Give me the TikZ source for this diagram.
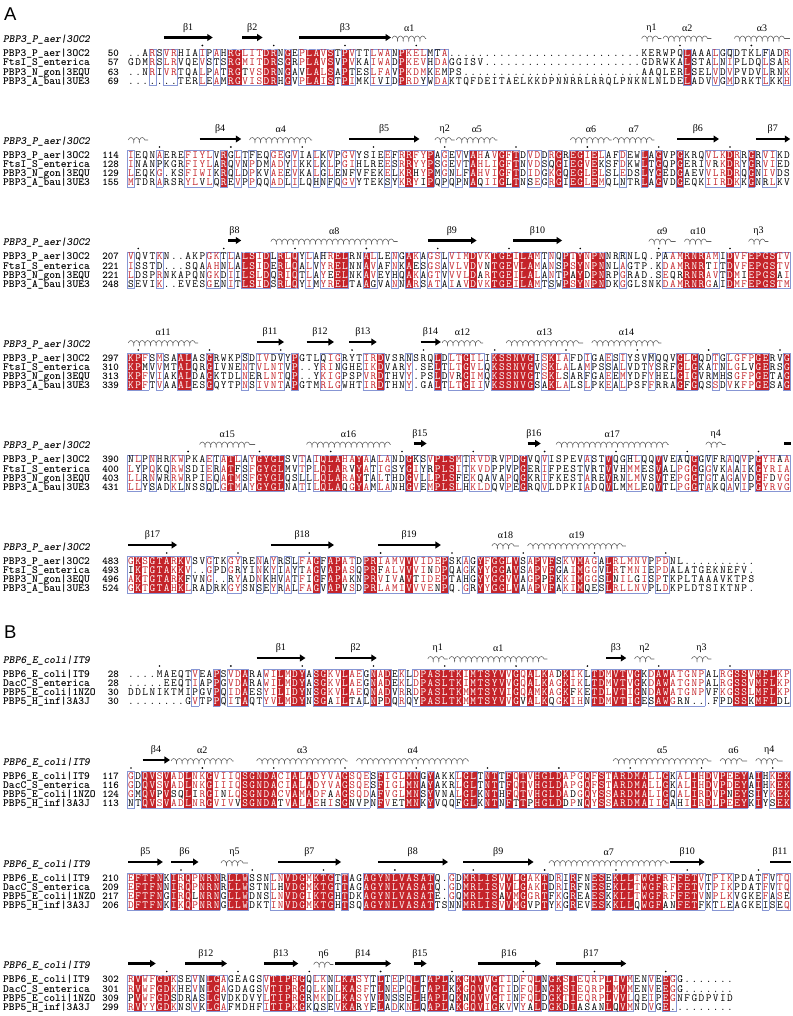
\documentclass[tikz,border=0pt]{standalone}
\usepackage{fontspec}
\setmainfont{Liberation Serif}
\newfontfamily\panelfont{Liberation Sans}
\usetikzlibrary{decorations.pathmorphing,arrows.meta}
\definecolor{alnred}{RGB}{196,36,42}
\definecolor{alnframe}{RGB}{135,150,212}
\definecolor{coilgray}{RGB}{95,95,95}
\def\alnS{127.5}
\def\alnW{7.13}
\def\alnP{9.2}
\def\alnL{93}
\def\alnB{3.3}
\def\alndotoff{2}
\tikzset{
  seqch/.style={inner sep=0pt, anchor=base, font=\fontsize{11}{11}\selectfont\ttfamily},
  namest/.style={inner sep=0pt, anchor=base west, font=\fontsize{11}{11}\selectfont\ttfamily\bfseries},
  numst/.style={inner sep=0pt, anchor=base east, font=\fontsize{10.5}{10.5}\selectfont\ttfamily\bfseries},
  headst/.style={inner sep=0pt, anchor=base west, font=\fontsize{11}{11}\selectfont\ttfamily\bfseries\itshape},
  sslab/.style={inner sep=0pt, anchor=center, font=\fontsize{10}{10}\selectfont},
  ssarr/.style={line width=2.2pt, -{Triangle[length=5.5pt,width=6.8pt]}},
  ssbarst/.style={line width=2.2pt},
  sscoil/.style={draw=coilgray, line width=0.55pt, decorate, decoration={coil, amplitude=2.5pt, segment length=5.6pt, aspect=0.5}},
  panel/.style={inner sep=0pt, anchor=west, font=\fontsize{18.5}{20}\selectfont\panelfont},
  frameline/.style={draw=alnframe, line width=0.55pt, line cap=rect},
}
\newcommand\alnbox[4]{\fill[alnred] (#1,#2) rectangle (#3,#4);}
\newcommand\alnseg[4]{\draw[frameline] (#1,#2) -- (#3,#4);}
\newcommand\alnch[4]{\node[seqch,text=#3] at (#1,#2) {#4};}
\newcommand\alndot[2]{\fill[black] (#1,#2) circle[radius=0.9];}

\ExplSyntaxOn
\intarray_new:Nn \g_aln_cls_intarray { 130 }
\intarray_new:Nn \g_aln_red_intarray { 520 }
\tl_new:N \g_aln_sa_tl
\tl_new:N \g_aln_sb_tl
\tl_new:N \g_aln_sc_tl
\tl_new:N \g_aln_sd_tl
\tl_new:N \l_aln_tmp_tl
\tl_new:N \l_aln_left_tl
\tl_new:N \l_aln_right_tl
\tl_new:N \l_aln_a_tl
\tl_new:N \l_aln_b_tl
\tl_new:N \l_aln_c_tl
\tl_new:N \l_aln_d_tl
\tl_new:N \l_aln_ch_tl
\tl_new:N \l_aln_col_tl
\tl_new:N \l_aln_x_tl
\tl_new:N \l_aln_xa_tl
\tl_new:N \l_aln_xb_tl
\tl_new:N \l_aln_yt_tl
\tl_new:N \l_aln_yb_tl
\int_new:N \l_aln_len_int
\int_new:N \l_aln_n_int
\int_new:N \l_aln_num_int
\int_new:N \l_aln_ga_int
\int_new:N \l_aln_gb_int
\int_new:N \l_aln_gc_int
\int_new:N \l_aln_gd_int
\int_new:N \l_aln_cls_int
\int_new:N \l_aln_bestg_int

\clist_map_inline:nn { I , L , V , M } { \cs_new:cpn { aln_grp_ #1 } { 1 } }
\clist_map_inline:nn { F , Y , W } { \cs_new:cpn { aln_grp_ #1 } { 2 } }
\clist_map_inline:nn { K , R , H } { \cs_new:cpn { aln_grp_ #1 } { 3 } }
\clist_map_inline:nn { D , E } { \cs_new:cpn { aln_grp_ #1 } { 4 } }
\clist_map_inline:nn { S , T } { \cs_new:cpn { aln_grp_ #1 } { 5 } }
\clist_map_inline:nn { N , Q } { \cs_new:cpn { aln_grp_ #1 } { 6 } }
\clist_map_inline:nn { A , G } { \cs_new:cpn { aln_grp_ #1 } { 7 } }
\clist_map_inline:nn { P } { \cs_new:cpn { aln_grp_ #1 } { 8 } }
\clist_map_inline:nn { C } { \cs_new:cpn { aln_grp_ #1 } { 9 } }

\cs_new:Npn \aln_grp:N #1 { \cs_if_exist_use:cF { aln_grp_ #1 } { 0 } }
\cs_new:Npn \aln_eq:nn #1 #2 { \int_compare:nNnTF {#1} = {#2} {1} {0} }
\cs_new:Npn \aln_cls:n #1 { \intarray_item:Nn \g_aln_cls_intarray { #1 + 1 } }

\cs_new_protected:Npn \aln_split:w #1 * #2 \q_stop
 { \tl_set:Nn \l_aln_left_tl {#1} \tl_set:Nn \l_aln_right_tl {#2} }

\cs_new_protected:Npn \aln_setrow:Nn #1 #2
 {
  \tl_set:Nn \l_aln_tmp_tl {#2}
  \tl_remove_all:Nn \l_aln_tmp_tl { ~ }
  \tl_if_in:NnTF \l_aln_tmp_tl { * }
   {
    \exp_after:wN \aln_split:w \l_aln_tmp_tl \q_stop
    \int_set:Nn \l_aln_n_int
     { \alnL - \tl_count:N \l_aln_left_tl - \tl_count:N \l_aln_right_tl }
    \tl_gset:Nx #1
     { \l_aln_left_tl \prg_replicate:nn { \l_aln_n_int } { . } \l_aln_right_tl }
   }
   { \tl_gset_eq:NN #1 \l_aln_tmp_tl }
 }

\cs_new_protected:Npn \aln_try:N #1
 {
  \int_compare:nNnT { \l_aln_cls_int } = { 0 }
   {
    \int_compare:nNnT { #1 } > { 0 }
     {
      \int_compare:nNnT
       {
        \aln_eq:nn {#1} { \l_aln_ga_int } + \aln_eq:nn {#1} { \l_aln_gb_int }
        + \aln_eq:nn {#1} { \l_aln_gc_int } + \aln_eq:nn {#1} { \l_aln_gd_int }
       } > { 2 }
       {
        \int_set:Nn \l_aln_cls_int { 1 }
        \int_set_eq:NN \l_aln_bestg_int #1
       }
     }
   }
 }
\cs_new:Npn \aln_isred:n #1
 {
  \int_compare:nNnTF { \l_aln_cls_int } = { 1 }
   { \aln_eq:nn {#1} { \l_aln_bestg_int } }
   { 0 }
 }

\cs_new_protected:Npn \aln_analyse:
 {
  \int_set:Nn \l_aln_len_int { \str_count:N \g_aln_sa_tl }
  \int_step_inline:nn { \l_aln_len_int + 2 }
   { \intarray_gset:Nnn \g_aln_cls_intarray {##1} { 0 } }
  \int_step_inline:nn { \l_aln_len_int }
   {
    \tl_set:Nx \l_aln_a_tl { \str_item:Nn \g_aln_sa_tl {##1} }
    \tl_set:Nx \l_aln_b_tl { \str_item:Nn \g_aln_sb_tl {##1} }
    \tl_set:Nx \l_aln_c_tl { \str_item:Nn \g_aln_sc_tl {##1} }
    \tl_set:Nx \l_aln_d_tl { \str_item:Nn \g_aln_sd_tl {##1} }
    \int_set:Nn \l_aln_ga_int { \aln_grp:N \l_aln_a_tl }
    \int_set:Nn \l_aln_gb_int { \aln_grp:N \l_aln_b_tl }
    \int_set:Nn \l_aln_gc_int { \aln_grp:N \l_aln_c_tl }
    \int_set:Nn \l_aln_gd_int { \aln_grp:N \l_aln_d_tl }
    \int_zero:N \l_aln_cls_int
    \int_zero:N \l_aln_bestg_int
    \tl_if_eq:NNT \l_aln_a_tl \l_aln_b_tl
     {
      \tl_if_eq:NNT \l_aln_a_tl \l_aln_c_tl
       {
        \tl_if_eq:NNT \l_aln_a_tl \l_aln_d_tl
         {
          \int_compare:nNnT { \l_aln_ga_int } > { 0 }
           { \int_set:Nn \l_aln_cls_int { 2 } }
         }
       }
     }
    \aln_try:N \l_aln_ga_int
    \aln_try:N \l_aln_gb_int
    \intarray_gset:Nnn \g_aln_cls_intarray { ##1 + 1 } { \l_aln_cls_int }
    \intarray_gset:Nnn \g_aln_red_intarray { 4 * ##1 - 3 } { \aln_isred:n { \l_aln_ga_int } }
    \intarray_gset:Nnn \g_aln_red_intarray { 4 * ##1 - 2 } { \aln_isred:n { \l_aln_gb_int } }
    \intarray_gset:Nnn \g_aln_red_intarray { 4 * ##1 - 1 } { \aln_isred:n { \l_aln_gc_int } }
    \intarray_gset:Nnn \g_aln_red_intarray { 4 * ##1 } { \aln_isred:n { \l_aln_gd_int } }
   }
 }

\cs_new_protected:Npn \aln_xl:n #1
 {
  \tl_set:Nx \l_aln_xa_tl { \fp_eval:n { \alnS + (#1 - 1) * \alnW } }
  \tl_set:Nx \l_aln_xb_tl { \fp_eval:n { \alnS + (#1) * \alnW } }
 }

\cs_new_protected:Npn \aln_draw:n #1
 {
  \tl_set:Nx \l_aln_yt_tl { \fp_eval:n { #1 - 0.5 * \alnP } }
  \tl_set:Nx \l_aln_yb_tl { \fp_eval:n { #1 + 3.5 * \alnP } }
  \int_step_inline:nn { \l_aln_len_int }
   {
    \int_compare:nNnT { \aln_cls:n {##1} } = { 2 }
     {
      \tl_set:Nx \l_aln_xa_tl { \fp_eval:n { \alnS + (##1 - 1) * \alnW - 0.25 } }
      \tl_set:Nx \l_aln_xb_tl { \fp_eval:n { \alnS + (##1) * \alnW + 0.25 } }
      \use:e { \exp_not:N \alnbox { \l_aln_xa_tl } { \l_aln_yt_tl } { \l_aln_xb_tl } { \l_aln_yb_tl } }
     }
   }
  \int_step_inline:nn { \l_aln_len_int }
   {
    \int_compare:nNnT { \aln_cls:n {##1} } > { 0 }
     {
      \aln_xl:n {##1}
      \use:e { \exp_not:N \alnseg { \l_aln_xa_tl } { \l_aln_yt_tl } { \l_aln_xb_tl } { \l_aln_yt_tl } }
      \use:e { \exp_not:N \alnseg { \l_aln_xa_tl } { \l_aln_yb_tl } { \l_aln_xb_tl } { \l_aln_yb_tl } }
      \int_compare:nNnT { \aln_cls:n { ##1 - 1 } } = { 0 }
       { \use:e { \exp_not:N \alnseg { \l_aln_xa_tl } { \l_aln_yt_tl } { \l_aln_xa_tl } { \l_aln_yb_tl } } }
      \int_compare:nNnT { \aln_cls:n { ##1 + 1 } } = { 0 }
       { \use:e { \exp_not:N \alnseg { \l_aln_xb_tl } { \l_aln_yt_tl } { \l_aln_xb_tl } { \l_aln_yb_tl } } }
     }
   }
 }

\cs_new_protected:Npn \aln_row:Nnn #1 #2 #3
 {
  \int_step_inline:nn { \l_aln_len_int }
   {
    \tl_set:Nx \l_aln_ch_tl { \str_item:Nn #1 {##1} }
    \tl_set:Nx \l_aln_x_tl { \fp_eval:n { \alnS + (##1 - 0.5) * \alnW } }
    \int_case:nnF { \aln_cls:n {##1} }
     {
      { 2 } { \tl_set:Nn \l_aln_col_tl { white } }
      { 1 }
       {
        \int_compare:nNnTF { \intarray_item:Nn \g_aln_red_intarray { 4 * ##1 - 4 + #2 } } = { 1 }
         { \tl_set:Nn \l_aln_col_tl { alnred } }
         { \tl_set:Nn \l_aln_col_tl { black } }
       }
     }
     { \tl_set:Nn \l_aln_col_tl { black } }
    \use:e { \exp_not:N \alnch { \l_aln_x_tl } { #3 } { \l_aln_col_tl } { \l_aln_ch_tl } }
   }
 }

\cs_new_protected:Npn \aln_dots:nn #1 #2
 {
  \int_set:Nn \l_aln_num_int { #2 - 1 }
  \int_step_inline:nn { \l_aln_len_int }
   {
    \tl_set:Nx \l_aln_ch_tl { \str_item:Nn \g_aln_sa_tl {##1} }
    \str_if_eq:VnF \l_aln_ch_tl { . }
     {
      \int_incr:N \l_aln_num_int
      \int_compare:nNnT { \int_mod:nn { \l_aln_num_int + \alndotoff } { 10 } } = { 0 }
       {
        \tl_set:Nx \l_aln_x_tl { \fp_eval:n { \alnS + (##1 - 0.5) * \alnW } }
        \use:e { \exp_not:N \alndot { \l_aln_x_tl } { \fp_eval:n { #1 } } }
       }
     }
   }
 }

\NewDocumentCommand \alnrender { m m m m m m }
 {
  \aln_setrow:Nn \g_aln_sa_tl {#2}
  \aln_setrow:Nn \g_aln_sb_tl {#3}
  \aln_setrow:Nn \g_aln_sc_tl {#4}
  \aln_setrow:Nn \g_aln_sd_tl {#5}
  \aln_analyse:
  \aln_draw:n {#1}
  \aln_row:Nnn \g_aln_sa_tl {1} { \fp_eval:n { #1 + \alnB } }
  \aln_row:Nnn \g_aln_sb_tl {2} { \fp_eval:n { #1 + \alnP + \alnB } }
  \aln_row:Nnn \g_aln_sc_tl {3} { \fp_eval:n { #1 + 2 * \alnP + \alnB } }
  \aln_row:Nnn \g_aln_sd_tl {4} { \fp_eval:n { #1 + 3 * \alnP + \alnB } }
  \aln_dots:nn { #1 - 8 } {#6}
 }
\ExplSyntaxOff

\newcommand\alnnames[5]{\def\alnNa{#1}\def\alnNb{#2}\def\alnNc{#3}\def\alnNd{#4}\def\alnH{#5}}
\newcommand\alnblock[9]{%
  \def\blky{#1}%
  \alnrender{#1}{#2}{#3}{#4}{#5}{#6}%
  \node[headst] at (3,{#1-10.8}) {\alnH};
  \node[namest] at (3,{#1+\alnB}) {\alnNa};
  \node[namest] at (3,{#1+\alnP+\alnB}) {\alnNb};
  \node[namest] at (3,{#1+2*\alnP+\alnB}) {\alnNc};
  \node[namest] at (3,{#1+3*\alnP+\alnB}) {\alnNd};
  \node[numst] at (119,{#1+\alnB}) {#6};
  \node[numst] at (119,{#1+\alnP+\alnB}) {#7};
  \node[numst] at (119,{#1+2*\alnP+\alnB}) {#8};
  \node[numst] at (119,{#1+3*\alnP+\alnB}) {#9};
}
\newcommand\ssarrow[3]{%
  \draw[ssarr] ({\alnS+(#1-1)*\alnW+0.8},{\blky-16}) -- ({\alnS+(#2)*\alnW-0.3},{\blky-16});
  \node[sslab] at ({\alnS+(#1-1+#2)*\alnW/2},{\blky-25.5}) {#3};}
\newcommand\sshelix[3]{%
  \draw[sscoil] ({\alnS+(#1-1)*\alnW+0.8},{\blky-15}) -- ({\alnS+(#2)*\alnW-0.8},{\blky-15});
  \node[sslab] at ({\alnS+(#1-1+#2)*\alnW/2},{\blky-25.5}) {#3};}
\newcommand\ssbar[3]{%
  \draw[ssbarst] ({\alnS+(#1-1)*\alnW+0.8},{\blky-16}) -- ({\alnS+(#2)*\alnW},{\blky-16});
  \node[sslab] at ({\alnS+(#1-1+#2)*\alnW/2},{\blky-25.5}) {#3};}

\begin{document}
\begin{tikzpicture}[x=1pt,y=-1pt]
\fill[white] (0,0) rectangle (792,1016);
\useasboundingbox (0,0) rectangle (792,1016);
\node[panel] (panelA) at (4,14) {A};

\alnnames{PBP3\_P\_aer|3OC2}{FtsI\_S\_enterica}{PBP3\_N\_gon|3EQU}{PBP3\_A\_bau|3UE3}{PBP3\_P\_aer|3OC2}
\def\alnL{93}
\def\alndotoff{2}
\alnblock{53.5}
 {.. ARSVRHIAIP AHRGLITDRN GEPLAVSTPV TTLWANPKEL MTA * KERWPQLAAALGQDTKLFADR}
 {GDMRSLRVQE VSTSRGMITD RSGRPLAVSV PVKAIWADPK EVHDAGGISV * GDRWKALSTALNIPLDQLSAR}
 {.. NRIVRTQALP ATRGTVSDRN GAVLALSAPT ESLFAVPKDM KEMPS * AAQLERLSELVDVPVDVLRNK}
 {....... TERLEAMRGV ISDRHGVPLA ISTPIMKIVI DPRDYWDAKT QFDEITAELK KDPNNRRLRR QLPNKNLNLD ELADVVGMDR KTLKKH}
 {50}{57}{63}{69}
\ssarrow{6}{12}{β1}\ssarrow{17}{19}{β2}\ssarrow{25}{37}{β3}\sshelix{38}{42}{α1}
\sshelix{73}{75}{η1}\sshelix{76}{82}{α2}\sshelix{86}{93}{α3}

\alnblock{155}
 {IEQNAEREFI YLVRGLTFEQ GEGVIALKVP GVYSIEEFRR FYPAGEVVAH AVGFTDVDDR GREGIELAFD EWLAGVPGKR QVLKDRRGRV IKD}
 {INANPKGRFI YLARQVNPDM ADYIKKLKLP GIHLREESRR YYPSGEVTAH LIGFTNVDSQ GIEGVEKSFD KWLTGQPGER IVRKDRYGRV IED}
 {LEQKG.KSFI WIKRQLDPKV AEEVKALGLE NFVFEKELKR HYPMGNLFAH VIGFTDIDGK GQEGLELSLE DSLYGEDGAE VVLRDRQGNI VDS}
 {MTDRARSRYL VLQREVPPQQ ADLILQHNFQ GVYTEKSYKR YIPQPQPNAQ IIGLTNSEGR GIEGLEMQLN TRLAGVDGEQ KIIRDKKGNR LKV}
 {114}{128}{129}{155}
\sshelix{1}{3}{}\ssarrow{11}{16}{β4}\sshelix{18}{26}{α4}\ssarrow{32}{41}{β5}
\sshelix{44}{46}{η2}\sshelix{47}{52}{α5}\sshelix{63}{68}{α6}\sshelix{69}{74}{α7}
\ssarrow{78}{83}{β6}\ssarrow{89}{93}{β7}

\alnblock{256.5}
 {VQVTKN..AK PGKTLALSID LRLQYLAHRE LRNALLENGA KAGSLVIMDV KTGEILAMTN QPTYNPNNRR NLQ.PAAMRN RAMIDVFEPG STV}
 {ISSTD...SQ AAHNLALSID ERLQALVYRE LNNAVAFNKA ESGSAVLVDV NTGEVLAMAN SPSYNPNNLA GTP.KDAMRN RTITDVFEPG STV}
 {LDSPRNKAPQ NGKDIILSLD QRIQTLAYEE LNKAVEYHQA KAGTVVVLDA RTGEILALAN TPAYDPNRPG RAD.SEQRRN RAVTDMIEPG SAI}
 {SEVIK..EVE SGENITLSID SRLQYIMYRE LTAAGVANNA RSATAIAVDV KTGEILAMTS WPSYNPNDKG GLSNKDAMRN RGAIDMFEPG STM}
 {207}{221}{221}{248}
\ssarrow{15}{16}{β8}\sshelix{21}{38}{α8}\ssarrow{43}{49}{β9}\ssarrow{55}{61}{β10}
\sshelix{74}{77}{α9}\sshelix{79}{82}{α10}\sshelix{88}{90}{η3}

\alnblock{358}
 {KPFSMSAALA SGRWKPSDIV DVYPGTLQIG RYTIRDVSRN SRQLDLTGIL IKSSNVGISK IAFDIGAESI YSVMQQVGLG QDTGLGFPGE RVG}
 {KPMVVMTALQ RGIVNENTVL NTVP..YRIN GHEIKDVARY .SELTLTGVL QKSSNVGVSK LALAMPSSAL VDTYSRFGLG KATNLGLVGE RSG}
 {KPFVIAKALD AGKTDLNERL NTQP..YKIG PSPVRDTHVY .PSLDVRGIM QKSSNVGTSK LSARFGAEEM YDFYHELGIG VRMHSGFPGE TAG}
 {KPFTVAAALE SGQYTPNSIV NTAPGTMRLG WHTIRDTHNY .GALTLTGII VKSSNVGSAK LALSLPKEAL PSFFRRAGFG QSSDVKFPGE SAG}
 {297}{310}{313}{339}
\sshelix{1}{10}{α11}\ssarrow{19}{22}{β11}\ssarrow{26}{29}{β12}\ssarrow{32}{35}{β13}
\ssarrow{42}{44}{β14}\sshelix{45}{50}{α12}\sshelix{54}{64}{α13}\sshelix{66}{75}{α14}

\alnblock{459.5}
 {NLPNHRKWPK AETATLAYGY GLSVTAIQLA HAYAALANDG KSVPLSMTRV DRVPDGVQVI SPEVASTVQG HLQQVVEAQG GVFRAQVPGY HAA}
 {LYPQKQRWSD IERATFSFGY GLMVTPLQLA RVYATIGSYG IYRPLSITKV DPPVPGERIF PESTVRTVVH MMESVALPGG GGVKAAIKGY RIA}
 {LLRNWRRWRP IEQATMSFGY GLQSLLLQLA RAYTALTHDG VLLPLSFEKQ AVAPQGKRIF KESTAREVRN LMVSVTEPGG TGTAGAVDGF DVG}
 {LLYSADKLNS SQLGTMAYGY GLNATILQLA QGYAMLANHG VEMPLSLHKL DQVPEGRQVL DPKIADQVLM MLEQVTLPGG TAKQAVIPGY RVG}
 {390}{400}{403}{431}
\sshelix{11}{18}{α15}\sshelix{26}{37}{α16}\ssarrow{41}{42}{β15}\ssarrow{57}{58}{β16}
\sshelix{61}{76}{α17}\sshelix{82}{84}{η4}\ssbar{93}{93}{}

\def\alnL{88}
\alnblock{561}
 {GKSGTARKVS VGTKGYRENA YRSLFAGFAP ATDPRIAMVV VIDEPSKAGY FGGLVSAPVF SKVMAGALRL MNVPPDNL*}
 {IKTGTAKKV. .GPDGRYINK YIAYTAGVAP ASQPRFALVV VINDPQAGKY YGGAVSAPVF GAIMGGVLRT MNIEPDALAT GEKNEFV.}
 {AKTGTARKFV NG..RYADNK HVATFIGFAP AKNPRVIVAV TIDEPTAHGY YGGVVAGPPF KKIMGGSLNI LGISPTKPLT AAAVKTPS}
 {GKTGTAHKLR ADRKGYSNSE YRALFAGVAP VSDPRLAMIV VVENPQ.GRY YGGLVAAPVF AKIMQESLRL LNVPLDKPLD TSIKTNP.}
 {483}{493}{496}{524}
\ssarrow{1}{7}{β17}\ssarrow{21}{29}{β18}\ssarrow{36}{44}{β19}\sshelix{52}{55}{α18}\sshelix{57}{70}{α19}

\node[panel] (panelB) at (4,632) {B};
\alnnames{PBP6\_E\_coli|IT9}{DacC\_S\_enterica}{PBP5\_E\_coli|1NZO}{PBP5\_H\_inf|3A3J}{PBP6\_E\_coli|IT9}
\def\alnL{93}
\alnblock{674}
 {.... MAEQTVEAPS VDARAWILMD YASGKVLAEG NADEKLDPAS LTKIMTSYVV GQALKADKIK LTDMVTVGKD AWATGNPALR GSSVMFLKP}
 {..... EEQTIAPPGV DARAWILMDY ASGKVLAEGN ADEKLDPASL TKIMTSYVVG QALKAGKIKL TDMVTVGKDA WATGNPALRG SSVMFLKP}
 {DDLNIKTMIP GVPQIDAESY ILIDYNSGKV LAEQNADVRR DPASLTKMMT SYVIGQAMKA GKFKETDLVT IGNDAWATGN PVFKGSSLMF LKP}
 {........ GVTPPQITAQ TYVLMDYNSG AILTALNPDQ RQYPASLTKM MTSYVVGVAL KQGKIHNTDM VTIGESAWGR N... FPDSSKMFLDL}
 {28}{28}{30}{30}
\ssarrow{19}{25}{β1}\ssarrow{30}{35}{β2}\sshelix{43}{45}{η1}\sshelix{46}{59}{α1}
\ssarrow{68}{70}{β3}\sshelix{72}{74}{η2}\sshelix{80}{82}{η3}

\def\alndotoff{3}
\alnblock{776}
 {GDQVSVADLN KGVIIQSGND ACIALADYVA GSQESFIGLM NGYAKKLGLT NTTFQTVHGL DAPGQFSTAR DMALLGKALI HDVPEEYAIH KEK}
 {GDQVSVADLN KGIIIQSGND ACIALADYVA GSQESFIGLM NAYAKRLGLT NTTFQTVHGL DAPGQFSTAR DMALLGKALI HDVPDEYAIH KEK}
 {GMQVPVSQLI RGINLQSGND ACVAMADFAA GSQDAFVGLM NSYVNALGLK NTHFQTVHGL DADGQYSSAR DMALIGQALI RDVPNEYSIY KEK}
 {NTQVSVADLN RGVIVVSGND ATVALAEHIS GNVPNFVETM NKYVQQFGLK NTNFTTPHGL DDPNQYSSAR DMAIIGAHII RDLPEEYKIY SEK}
 {117}{116}{124}{113}
\ssarrow{3}{6}{β4}\sshelix{7}{15}{α2}\sshelix{19}{31}{α3}\sshelix{33}{48}{α4}
\sshelix{69}{82}{α5}\sshelix{84}{87}{α6}\sshelix{89}{92}{η4}

\alnblock{878}
 {EFTFNKIRQP NRNRLLWSSN LNVDGMKTGT TAGAGYNLVA SATQ.GDMRL ISVVLGAKTD RIRFNESEKL LTWGFRFFET VTPIKPDATF VTQ}
 {EFTFNNIRQP NRNRLLWSTN LHVDGMKTGT TAGAGYNLVA SATQ.GDMRL ISVVLGAKTD RIRFNESEKL LTWGFRFFET VTPIKPDATF VTQ}
 {EFTFNGIRQL NRNGLLWDNS LNVDGIKTGH TDKAGYNLVA SATE.GQMRL ISAVMGGRTF KGREAESKKL LTWGFRFFET VNPLKVGKEF ASE}
 {DFTFNKIKQP NRNGLLWDKT INVDGMKTGH TSQAGYNLVA SATTSNNMRL ISVVMGVPTY KGREVESKKL LQWGFANFET FKTLEAGKEI SEQ}
 {210}{209}{217}{206}
\ssarrow{1}{5}{β5}\ssarrow{7}{10}{β6}\sshelix{14}{17}{η5}\ssarrow{22}{30}{β7}
\ssarrow{36}{45}{β8}\ssarrow{48}{57}{β9}\sshelix{60}{76}{α7}\ssarrow{77}{81}{β10}\ssbar{91}{93}{β11}

\def\alnL{85}
\alnblock{979.5}
 {RVWFGDKSEV NLGAGEAGSV TIPRGQLKNL KASYTLTEPQ LTAPLKKGQV VGTIDFQLNG KSIEQRPLIV MENVEEGG*}
 {RVWFGDKHEV NLGAGDAGSV TIPRGQLKNL KASFTLNEPQ LTAPLKKGQV VGTIDFQLNG KSIEQRPLMV MENVEEGG*}
 {PVWFGDSDRA SLGVDKDVYL TIPRGRMKDL KASYVLNSSE LHAPLQKNQV VGTINFQLDG KTIEQRPLVV LQEIPEGNFG DPVID}
 {RVYYGDKNSV KLGAFMDHFI TIPKGKQSEV KARYELADKN LQAPLAKGQV IGKVVYALDG KDIASANLQV MNDVGE*}
 {302}{301}{309}{299}
\ssarrow{1}{4}{}\ssarrow{9}{14}{β12}\ssarrow{20}{24}{β13}\sshelix{27}{29}{η6}
\ssarrow{30}{37}{β14}\ssarrow{41}{42}{β15}\ssarrow{50}{58}{β16}\ssarrow{61}{70}{β17}
\end{tikzpicture}
\end{document}
